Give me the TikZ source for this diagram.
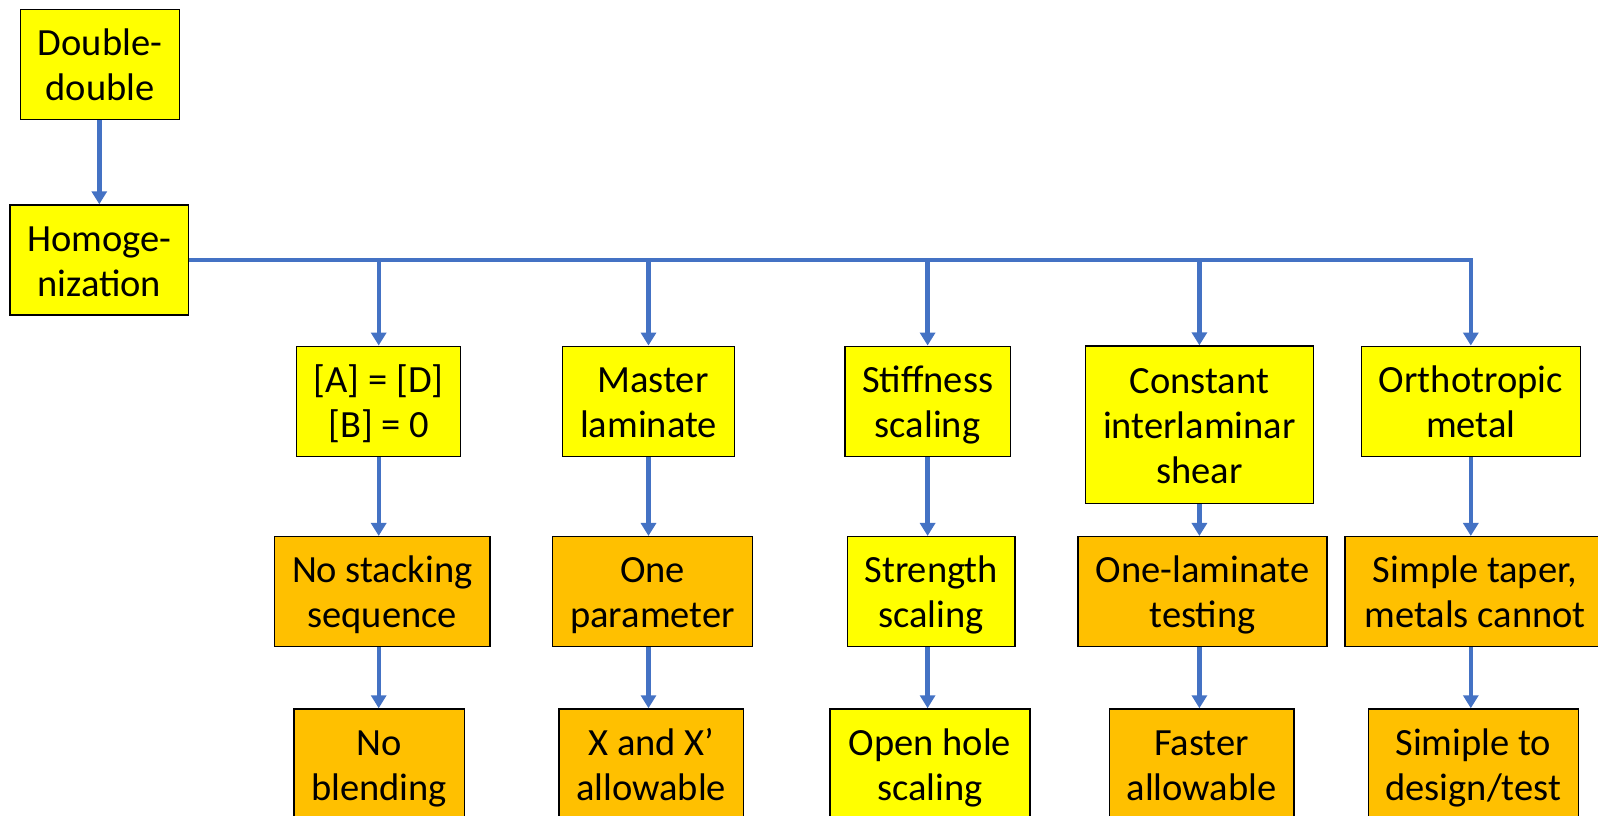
\documentclass[tikz,border=0pt]{standalone}
\usepackage{fontspec}
\setmainfont{Carlito}
\usetikzlibrary{arrows.meta}
\definecolor{boxyellow}{HTML}{FFFF00}
\definecolor{boxorange}{HTML}{FFC000}
\definecolor{linkblue}{HTML}{4472C4}
% one strut per text line keeps every line 45pt apart and the block centred
\newcommand{\lstrut}{\rule[-9pt]{0pt}{45pt}}
\tikzset{
  box/.style={draw=black, line width=1.5pt, inner sep=0pt, align=center,
              font=\fontsize{38.5pt}{45pt}\selectfont},
  ybox/.style={box, fill=boxyellow},
  obox/.style={box, fill=boxorange},
  link/.style={draw=linkblue, line width=4.4pt},
  arr/.style={link, -{Triangle[width=15pt,length=13pt]}},
}
\begin{document}
\begin{tikzpicture}[x=1pt, y=-1pt]
\useasboundingbox (0,0) rectangle (1598,815);
\clip (0,0) rectangle (1598,815);

% top of the tree
\node[ybox, minimum width=158.6pt, minimum height=110pt] (dd)  at (100,64.3)  {\lstrut Double-\\\lstrut double};
\node[ybox, minimum width=178.7pt, minimum height=110pt] (hom) at (99.3,260) {\lstrut Homoge-\\\lstrut nization};

% first row: properties
\node[ybox, minimum width=164pt,   minimum height=110pt]   (a1) at (378.7,401.3)  {\lstrut[A] = [D]\\\lstrut[B] = 0};
\node[ybox, minimum width=171.6pt, minimum height=110pt]   (a2) at (648.5,401.3)  {\lstrut\ Master\\\lstrut laminate};
\node[ybox, minimum width=165.7pt, minimum height=110pt]   (a3) at (927.6,401.3)  {\lstrut Stiffness\\\lstrut scaling};
\node[ybox, minimum width=227.7pt, minimum height=157.3pt] (a4) at (1199.4,424.7) {\lstrut Constant\\\lstrut interlaminar\\\lstrut shear};
\node[ybox, minimum width=219pt,   minimum height=110pt]   (a5) at (1470.8,401.3) {\lstrut Orthotropic\\\lstrut metal};

% second row
\node[obox, minimum width=215.7pt, minimum height=110pt] (b1) at (382.2,591.7)  {\lstrut No stacking\\\lstrut sequence};
\node[obox, minimum width=199.6pt, minimum height=110pt] (b2) at (652.5,591.7)  {\lstrut One\\\lstrut parameter};
\node[ybox, minimum width=167.7pt, minimum height=110pt] (b3) at (931.2,591.7)  {\lstrut Strength\\\lstrut scaling};
\node[obox, minimum width=249pt,   minimum height=110pt] (b4) at (1202.6,591.7) {\lstrut One-laminate\\\lstrut testing};
\node[obox, minimum width=260pt,   minimum height=110pt] (b5) at (1475,591.7)   {\lstrut Simple taper,\\\lstrut metals cannot};

% third row
\node[obox, minimum width=170.3pt, minimum height=110pt] (c1) at (379.2,764)  {\lstrut No\\\lstrut blending};
\node[obox, minimum width=184.3pt, minimum height=110pt] (c2) at (651.2,764)  {\lstrut X and X’\\\lstrut allowable};
\node[ybox, minimum width=200pt,   minimum height=110pt] (c3) at (930,764)    {\lstrut Open hole\\\lstrut scaling};
\node[obox, minimum width=184.6pt, minimum height=110pt] (c4) at (1201.6,764) {\lstrut Faster\\\lstrut allowable};
\node[obox, minimum width=210pt,   minimum height=110pt] (c5) at (1473.3,764) {\lstrut Simiple to\\\lstrut design/test};

% connectors
\draw[arr] (hom.north |- dd.south) -- (hom.north);
\draw[arr] (hom.east) -| (a5.north);
\foreach \n in {a1,a2,a3,a4}
  \draw[arr] (hom.east -| \n.north) -- (\n.north);
\foreach \a/\b/\c in {a1/b1/c1, a2/b2/c2, a3/b3/c3, a4/b4/c4, a5/b5/c5} {
  \draw[arr] (\a.south) -- (\a.south |- \b.north);
  \draw[arr] (\b.south -| \a) -- (\c.north -| \a);
}
\end{tikzpicture}
\end{document}
